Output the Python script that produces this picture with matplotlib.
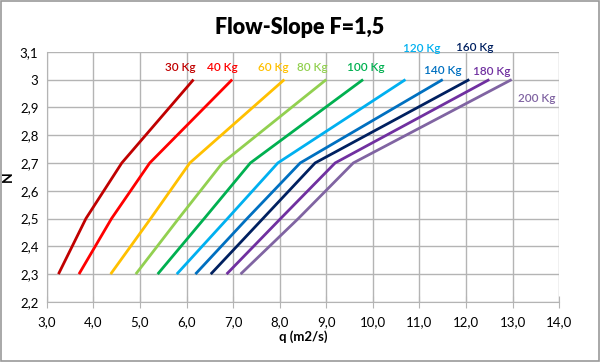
import matplotlib.pyplot as plt
from matplotlib.ticker import FuncFormatter, MultipleLocator

plt.rcParams['font.family'] = ['Lato', 'DejaVu Sans']

# data
n_vals = [2.3, 2.5, 2.7, 3.0]
series = ['30 Kg', '40 Kg', '60 Kg', '80 Kg', '100 Kg',
          '120 Kg', '140 Kg', '160 Kg', '180 Kg', '200 Kg']
q_30 = [3.25, 3.84, 4.61, 6.15]
q_40 = [3.69, 4.39, 5.21, 6.98]
q_60 = [4.37, 5.23, 6.07, 8.10]
q_80 = [4.91, 5.83, 6.77, 9.00]
q_100 = [5.38, 6.38, 7.37, 9.79]
q_120 = [5.79, 6.88, 7.96, 10.70]
q_140 = [6.19, 7.30, 8.44, 11.50]
q_160 = [6.52, 7.64, 8.76, 12.07]
q_180 = [6.86, 8.02, 9.19, 12.50]
q_200 = [7.16, 8.40, 9.58, 12.98]
colors = ['#C00000', '#FF0000', '#FFC000', '#92D050', '#00B050',
          '#00B0F0', '#0070C0', '#002060', '#7030A0', '#8064A2']
# label positions (data coords)
lab_x = [5.86, 6.76, 7.86, 8.71, 9.85, 11.05, 11.50, 12.19, 12.56, 13.52]
lab_y = [3.045, 3.045, 3.045, 3.045, 3.045, 3.113, 3.034, 3.117, 3.03, 2.933]

all_q = [q_30, q_40, q_60, q_80, q_100, q_120, q_140, q_160, q_180, q_200]

fig = plt.figure(figsize=(6, 3.62), dpi=100)
ax = fig.add_axes([0.078, 0.166, 0.854, 0.691])

for name, q, c, lx, ly in zip(series, all_q, colors, lab_x, lab_y):
    ax.plot(q, n_vals, color=c, lw=2.0, solid_capstyle='butt')
    ax.text(lx, ly, name, color=c, fontsize=8.5, fontweight='semibold',
            ha='center', va='center')

ax.set_xlim(3, 14)
ax.set_ylim(2.2, 3.1)
ax.xaxis.set_major_locator(MultipleLocator(1))
ax.yaxis.set_major_locator(MultipleLocator(0.1))
ax.xaxis.set_major_formatter(FuncFormatter(lambda v, p: f'{v:.1f}'.replace('.', ',')))
ax.yaxis.set_major_formatter(FuncFormatter(lambda v, p: f'{round(v, 1):g}'.replace('.', ',')))
ax.grid(True, color='#b4b4b4', lw=1)
for s in ['top', 'right']:
    ax.spines[s].set_visible(False)
ax.spines['left'].set_color('#b4b4b4')
ax.spines['bottom'].set_color('#b4b4b4')
ax.tick_params(axis='x', direction='inout', length=8, color='#b4b4b4',
               labelsize=9.5, pad=6)
ax.tick_params(axis='y', length=0, labelsize=9.5, pad=6)
ax.set_axisbelow(True)

ax.set_xlabel('q (m2/s)', fontsize=9.5, fontweight='bold', labelpad=2)
ax.set_ylabel('N', fontsize=10, fontweight='bold', labelpad=4)
fig.text(0.5, 0.925, 'Flow-Slope F=1,5', ha='center', va='center',
         fontsize=15.5, fontweight='heavy')

fig.patches.append(plt.Rectangle((0.002, 0.003), 0.996, 0.994, transform=fig.transFigure,
                                 fill=False, edgecolor='#999999', lw=1.2))

fig.savefig('out.png', dpi=100)
